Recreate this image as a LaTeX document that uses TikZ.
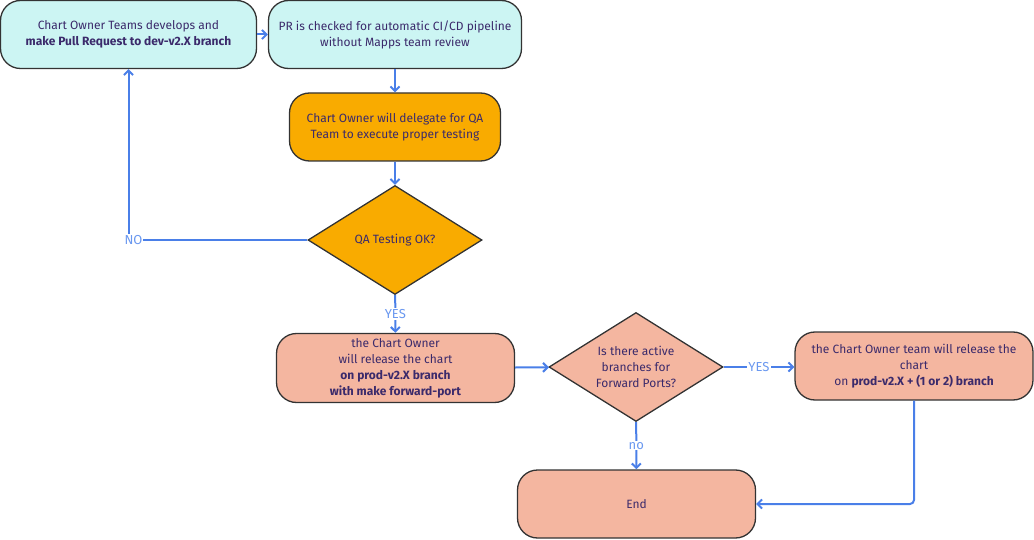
\documentclass[tikz,border=0pt]{standalone}
\usepackage{fontspec}
\setmainfont{Fira Sans}
\usetikzlibrary{arrows.meta,shapes.geometric,positioning}
\definecolor{chartink}{HTML}{3B2A6B}
\definecolor{chartline}{HTML}{4A7FE8}
\definecolor{chartlabel}{HTML}{6A98F0}
\definecolor{devfill}{HTML}{CCF5F3}
\definecolor{qafill}{HTML}{F9AB00}
\definecolor{prodfill}{HTML}{F4B6A0}
\tikzset{
    step box/.style = {
        draw = black!80,
        line width = 1.3pt,
        rounded corners = 20pt,
        align = center,
        text = chartink,
        font = \fontsize{12}{16}\selectfont,
        },
    dev box/.style = {
        step box,
        fill = devfill,
        },
    qa box/.style = {
        step box,
        fill = qafill,
        },
    prod box/.style = {
        step box,
        fill = prodfill,
        },
    decision/.style = {
        draw = black!80,
        line width = 1.3pt,
        diamond,
        aspect = 1.6,
        inner sep = 0pt,
        align = center,
        text = chartink,
        font = \fontsize{12}{16}\selectfont,
        minimum width = 174pt,
        minimum height = 109pt,
        },
    flow/.style = {
        draw = chartline,
        line width = 2pt,
        -{Straight Barb[length=4.5pt,width=9pt]},
        },
    flow label/.style = {
        fill = white,
        inner sep = 1pt,
        text = chartlabel,
        font = \fontsize{13}{15}\selectfont,
        },
}
\begin{document}
\begin{tikzpicture}[x=1pt, y=-1pt]
            \useasboundingbox (0,0) rectangle (1034,540);

            \node[dev box, minimum width=256pt, minimum height=68pt] (dev) at (128.5,34.5)
                {Chart Owner Teams develops and\\\textbf{make Pull Request to dev-v2.X branch}};
            \node[dev box, minimum width=253pt, minimum height=68pt] (ci) at (395,34.5)
                {PR is checked for automatic CI/CD pipeline\\without Mapps team review};
            \node[qa box, minimum width=211pt, minimum height=68pt] (qa) at (395,127)
                {Chart Owner will delegate for QA\\Team to execute proper testing};
            \node[decision, fill=qafill] (ok) at (395,240) {QA Testing OK?};
            \node[prod box, minimum width=238pt, minimum height=69pt] (prod) at (395.5,368)
                {the Chart Owner\\will release the chart\\\textbf{on prod-v2.X branch}\\\textbf{with make forward-port}};
            \node[decision, fill=prodfill] (fwd) at (636,367)
                {Is there active\\branches for\\Forward Ports?};
            \node[prod box, minimum width=238pt, minimum height=68pt] (port) at (914,366)
                {the Chart Owner team will release the\\chart\\on \textbf{prod-v2.X + (1 or 2) branch}};
            \node[prod box, minimum width=238pt, minimum height=68pt] (end) at (636.5,504) {End};

            \path[flow] (dev) -- (ci);
            \path[flow] (ci) -- (qa);
            \path[flow] (qa) -- (ok);
            \path[flow] (ok.west) -| node[flow label, pos=0.5, xshift=5pt] {NO} (dev.south);
            \path[flow] (ok) -- node[flow label] {YES} (prod);
            \path[flow] (prod) -- (fwd);
            \path[flow] (fwd.east) -- node[flow label] {YES} (fwd.east -| port.west);
            \path[flow] (fwd) -- node[flow label] {no} (end);
            \path[flow, rounded corners=4pt] (port.south) |- (end.east);
        \end{tikzpicture}
\end{document}
